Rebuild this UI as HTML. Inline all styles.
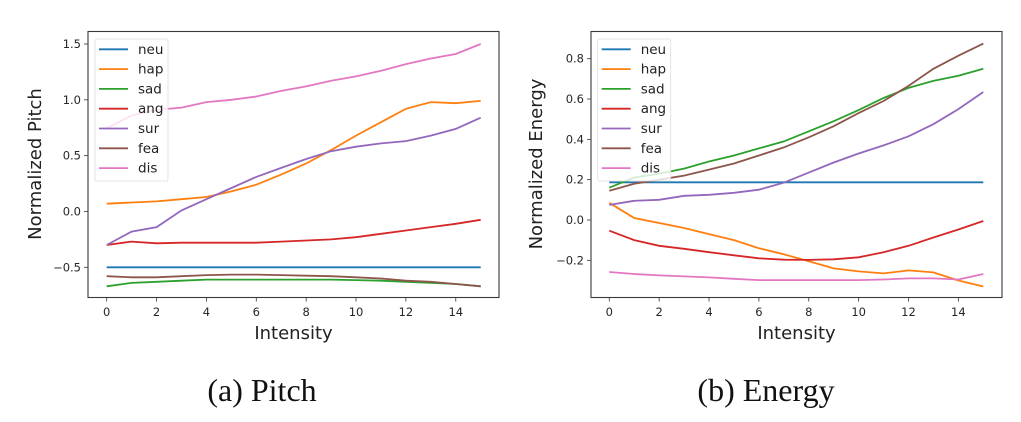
<!DOCTYPE html>
<html><head><meta charset="utf-8"><style>
body{margin:0;background:#fff;width:1021px;height:422px;overflow:hidden}
svg{display:block}
text{font-family:"DejaVu Sans","Liberation Sans",sans-serif}
</style></head><body>
<svg id="fig" width="1021" height="422" viewBox="0 0 1021 422"></svg>
<script>
const xs = [0,1,2,3,4,5,6,7,8,9,10,11,12,13,14,15];
const names = ["neu","hap","sad","ang","sur","fea","dis"];
const colors = ["#1f77b4","#ff7f0e","#2ca02c","#d62728","#9467bd","#8c564b","#e377c2"];
const xTicks = [0,2,4,6,8,10,12,14];
const pitchTicks = [1.5,1.0,0.5,0.0,-0.5];
const energyTicks = [0.8,0.6,0.4,0.2,0.0,-0.2];
const pitchNeu = [-0.5,-0.5,-0.5,-0.5,-0.5,-0.5,-0.5,-0.5,-0.5,-0.5,-0.5,-0.5,-0.5,-0.5,-0.5,-0.5];
const pitchHap = [0.07,0.08,0.09,0.11,0.13,0.18,0.24,0.33,0.43,0.55,0.68,0.80,0.92,0.98,0.97,0.99];
const pitchSad = [-0.67,-0.64,-0.63,-0.62,-0.61,-0.61,-0.61,-0.61,-0.61,-0.61,-0.615,-0.62,-0.63,-0.64,-0.65,-0.67];
const pitchAng = [-0.30,-0.27,-0.285,-0.28,-0.28,-0.28,-0.28,-0.27,-0.26,-0.25,-0.23,-0.20,-0.17,-0.14,-0.11,-0.075];
const pitchSur = [-0.30,-0.18,-0.14,0.01,0.11,0.21,0.31,0.39,0.47,0.54,0.58,0.61,0.63,0.68,0.74,0.84];
const pitchFea = [-0.58,-0.59,-0.59,-0.58,-0.57,-0.565,-0.565,-0.57,-0.575,-0.58,-0.59,-0.60,-0.62,-0.63,-0.65,-0.67];
const pitchDis = [0.745,0.86,0.91,0.93,0.98,1.0,1.03,1.08,1.12,1.17,1.21,1.26,1.32,1.37,1.41,1.5];
const energyNeu = [0.187,0.187,0.187,0.187,0.187,0.187,0.187,0.187,0.187,0.187,0.187,0.187,0.187,0.187,0.187,0.187];
const energyHap = [0.085,0.01,-0.015,-0.04,-0.07,-0.10,-0.14,-0.17,-0.205,-0.24,-0.255,-0.265,-0.25,-0.26,-0.30,-0.33];
const energySad = [0.16,0.21,0.23,0.255,0.29,0.32,0.355,0.39,0.44,0.49,0.545,0.605,0.655,0.69,0.715,0.75];
const energyAng = [-0.053,-0.10,-0.128,-0.143,-0.16,-0.175,-0.19,-0.197,-0.198,-0.195,-0.185,-0.16,-0.128,-0.087,-0.047,-0.005];
const energySur = [0.075,0.095,0.10,0.12,0.125,0.135,0.15,0.185,0.235,0.285,0.33,0.37,0.415,0.475,0.55,0.635];
const energyFea = [0.145,0.18,0.20,0.22,0.25,0.28,0.32,0.36,0.41,0.465,0.53,0.59,0.665,0.75,0.815,0.875];
const energyDis = [-0.258,-0.268,-0.275,-0.28,-0.285,-0.292,-0.298,-0.298,-0.298,-0.298,-0.298,-0.295,-0.29,-0.29,-0.295,-0.268];

const NS="http://www.w3.org/2000/svg";
const svg=document.getElementById('fig');
function mk(tag,attrs,parent){const e=document.createElementNS(NS,tag);for(const k in attrs)e.setAttribute(k,attrs[k]);(parent||svg).appendChild(e);return e;}
function fmt(v,d){const s=Math.abs(v).toFixed(d);return (v<0?"\u2212":"")+s;}

function chart(o){
  const g=mk('g',{});
  
  
  const X=v=>o.x0+(v-0)*(o.x15-o.x0)/15;
  const Y=v=>o.ya+(v-o.va)*(o.yb-o.ya)/(o.vb-o.va);
  const f=mk('rect',{x:o.L,y:31.5,width:o.R-o.L,height:266,fill:'none',stroke:'#3a3a3a','stroke-width':1.1},g);
  
  xTicks.forEach(t=>{
    mk('line',{x1:X(t),x2:X(t),y1:297.5,y2:301.5,stroke:'#333','stroke-width':0.8},g);
    const tx=mk('text',{x:X(t),y:316,'font-size':11.5,'text-anchor':'middle',fill:'#262626'},g);
    tx.textContent=t;
    
  });
  o.ticks.forEach(t=>{
    mk('line',{x1:o.L-4,x2:o.L,y1:Y(t),y2:Y(t),stroke:'#333','stroke-width':0.8},g);
    const tx=mk('text',{x:o.L-7,y:Y(t)+4,'font-size':11.5,'text-anchor':'end',fill:'#262626'},g);
    tx.textContent=fmt(t,o.dec);
    
  });
  o.series.forEach((s,i)=>{
    const p=mk('polyline',{points:s.map((v,j)=>X(xs[j]).toFixed(1)+','+Y(v).toFixed(1)).join(' '),fill:'none',stroke:colors[i],'stroke-width':1.8},g);
    
  });
  const lg=mk('g',{},g);
  
  mk('rect',{x:o.lx,y:39,width:73,height:142,rx:2,fill:'#fff','fill-opacity':0.8,stroke:'#ddd','stroke-width':0.8},lg);
  names.forEach((n,i)=>{
    const yy=49.3+i*19.8;
    mk('line',{x1:o.lx+4,x2:o.lx+33,y1:yy,y2:yy,stroke:colors[i],'stroke-width':1.8},lg);
    const t=mk('text',{x:o.lx+43,y:yy+4.5,'font-size':13.5,fill:'#222'},lg);
    t.textContent=n;
    
  });
  const xl=mk('text',{x:(o.L+o.R)/2,y:339,'font-size':18,'text-anchor':'middle',fill:'#222'},g);
  xl.textContent='Intensity';
  const yl=mk('text',{x:0,y:0,'font-size':18,'text-anchor':'middle',fill:'#222',transform:`translate(${o.ylx},${164}) rotate(-90)`},g);
  yl.textContent=o.ylabel;
  const cp=mk('text',{x:o.cx,y:401,'font-size':32,'text-anchor':'middle',fill:'#111',style:'font-family:"Liberation Serif",serif'},g);
  cp.textContent=o.caption;
}
chart({name:'pitch-chart',L:88,R:499,x0:106.7,x15:480.7,va:1.5,ya:44,vb:-0.5,yb:267.3,ticks:pitchTicks,dec:1,
  series:[pitchNeu,pitchHap,pitchSad,pitchAng,pitchSur,pitchFea,pitchDis],lx:95,ylx:41,ylabel:'Normalized Pitch',caption:'(a) Pitch',cx:262});
chart({name:'energy-chart',L:591,R:1002,x0:609.3,x15:983.3,va:0.8,ya:58.7,vb:-0.2,yb:260.3,ticks:energyTicks,dec:1,
  series:[energyNeu,energyHap,energySad,energyAng,energySur,energyFea,energyDis],lx:597.7,ylx:542,ylabel:'Normalized Energy',caption:'(b) Energy',cx:766});
</script>
</body></html>
